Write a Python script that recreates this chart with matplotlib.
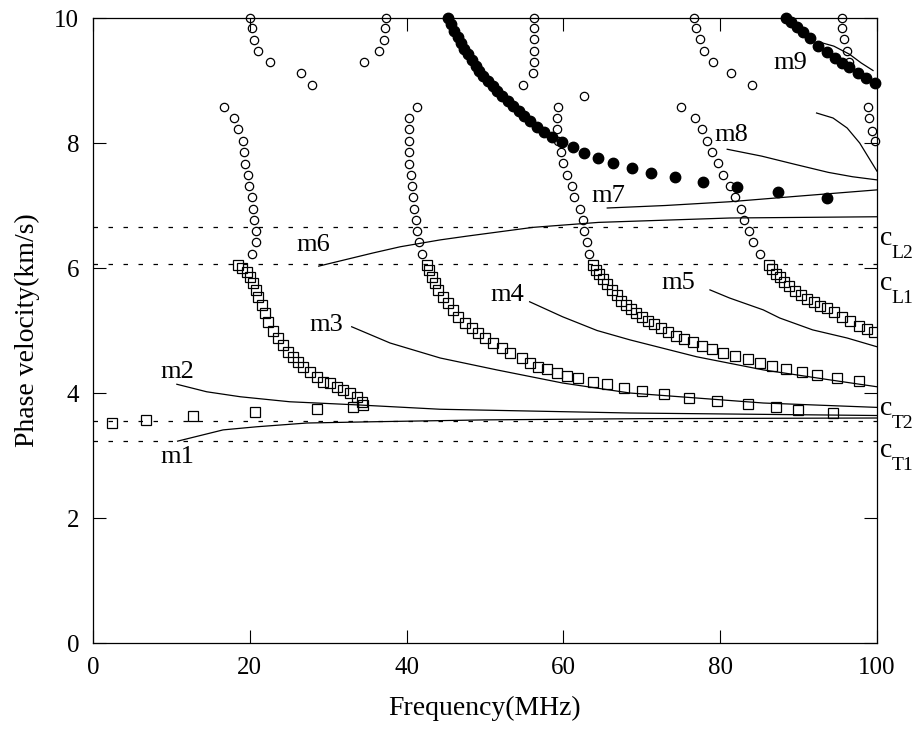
import matplotlib
matplotlib.use("Agg")
import matplotlib.pyplot as plt

plt.rcParams['font.family'] = ['Liberation Serif', 'DejaVu Serif']

# bulk wave velocities (km/s)
c_names = ['L2', 'L1', 'T2', 'T1']
c_vals = [6.66, 6.06, 3.55, 3.24]
c_label_v = [6.37, 5.65, 3.65, 2.98]

# solid mode curves m1..m9 (frequency MHz, phase velocity km/s)
m1_f = [10.8, 13.7, 16.6, 20.9, 27.3, 35.7, 50.0, 70.0, 100.0]
m1_v = [3.23, 3.32, 3.41, 3.46, 3.52, 3.54, 3.57, 3.59, 3.60]
m2_f = [10.7, 14.5, 18.8, 25.1, 33.7, 44.3, 68.5, 100.0]
m2_v = [4.14, 4.02, 3.94, 3.86, 3.81, 3.74, 3.68, 3.64]
m3_f = [33.0, 37.9, 44.3, 51.5, 59.9, 68.5, 77.0, 85.5, 100.0]
m3_v = [5.06, 4.80, 4.56, 4.37, 4.16, 4.00, 3.92, 3.84, 3.77]
m4_f = [55.7, 59.9, 64.3, 68.5, 77.0, 85.5, 94.0, 100.0]
m4_v = [5.46, 5.22, 5.00, 4.85, 4.58, 4.37, 4.21, 4.10]
m5_f = [78.7, 81.2, 85.5, 87.6, 91.8, 96.2, 100.0]
m5_v = [5.65, 5.52, 5.33, 5.20, 5.01, 4.88, 4.74]
m6_f = [28.8, 35.7, 39.2, 44.3, 47.7, 56.1, 64.5, 81.2, 100.0]
m6_v = [6.03, 6.24, 6.34, 6.45, 6.51, 6.65, 6.73, 6.80, 6.82]
m7_f = [65.6, 73.0, 81.2, 90.0, 100.0]
m7_v = [6.96, 7.00, 7.06, 7.15, 7.25]
m8_f = [80.9, 85.3, 89.5, 93.8, 96.9, 100.0]
m8_v = [7.90, 7.79, 7.66, 7.53, 7.46, 7.41]
m9_f = [92.5, 94.5, 96.5, 98.0, 99.5]
m9_v = [9.62, 9.55, 9.42, 9.28, 9.16]
mx_f = [92.3, 94.4, 96.2, 97.8, 100.0]
mx_v = [8.48, 8.40, 8.24, 8.00, 7.55]

mode_f = [m1_f, m2_f, m3_f, m4_f, m5_f, m6_f, m7_f, m8_f, m9_f, mx_f]
mode_v = [m1_v, m2_v, m3_v, m4_v, m5_v, m6_v, m7_v, m8_v, m9_v, mx_v]

mode_names = ['m1', 'm2', 'm3', 'm4', 'm5', 'm6', 'm7', 'm8', 'm9']
label_f = [10.8, 10.8, 29.7, 52.8, 74.6, 28.1, 65.8, 81.4, 88.9]
label_v = [2.98, 4.34, 5.09, 5.57, 5.76, 6.37, 7.15, 8.13, 9.28]

# open squares
s1_f = [2.4, 6.8, 12.8, 20.7, 28.6, 33.2]
s1_v = [3.52, 3.57, 3.63, 3.70, 3.74, 3.78]
s2_f = [18.5, 19.0, 19.6, 20.0, 20.4, 20.8, 21.0, 21.5, 21.9, 22.3, 23.0, 23.6,
        24.2, 24.9, 25.5, 26.1, 26.8, 27.7, 28.6, 29.3, 30.2, 31.1, 31.9, 32.8,
        33.7, 34.3, 34.4]
s2_v = [6.05, 6.00, 5.94, 5.86, 5.76, 5.65, 5.54, 5.41, 5.28, 5.14, 5.00, 4.88,
        4.77, 4.66, 4.58, 4.50, 4.42, 4.34, 4.26, 4.18, 4.16, 4.10, 4.05, 4.00,
        3.94, 3.86, 3.81]
s3_f = [42.6, 42.9, 43.2, 43.6, 44.0, 44.6, 45.3, 45.9, 46.6, 47.4, 48.3, 49.1,
        50.0, 51.0, 52.2, 53.2, 54.7, 55.7, 56.8, 57.9, 59.2, 60.5, 61.9, 63.8,
        65.6, 67.7, 70.0, 72.8, 76.0, 79.6, 83.5, 87.1, 89.9, 94.4]
s3_v = [6.05, 5.97, 5.86, 5.76, 5.65, 5.54, 5.44, 5.33, 5.22, 5.12, 5.04, 4.96,
        4.88, 4.80, 4.72, 4.64, 4.56, 4.48, 4.42, 4.38, 4.32, 4.27, 4.24, 4.18,
        4.14, 4.08, 4.03, 3.98, 3.92, 3.87, 3.83, 3.78, 3.73, 3.68]
s4_f = [63.8, 64.2, 64.6, 65.1, 65.6, 66.2, 66.8, 67.4, 68.0, 68.6, 69.3, 70.0,
        70.8, 71.6, 72.5, 73.4, 74.4, 75.4, 76.5, 77.7, 79.0, 80.4, 81.9, 83.5,
        85.1, 86.6, 88.4, 90.4, 92.4, 94.9, 97.7]
s4_v = [6.05, 5.97, 5.90, 5.83, 5.74, 5.65, 5.57, 5.48, 5.41, 5.35, 5.28, 5.22,
        5.16, 5.10, 5.04, 4.98, 4.92, 4.87, 4.81, 4.75, 4.70, 4.64, 4.59, 4.54,
        4.48, 4.43, 4.38, 4.33, 4.29, 4.24, 4.19]
s5_f = [86.2, 86.6, 87.1, 87.6, 88.2, 88.8, 89.5, 90.3, 91.1, 92.0, 92.8, 93.6,
        94.5, 95.5, 96.6, 97.7, 98.7, 99.6]
s5_v = [6.05, 5.98, 5.91, 5.85, 5.78, 5.71, 5.64, 5.57, 5.51, 5.45, 5.40, 5.36,
        5.30, 5.22, 5.15, 5.08, 5.03, 4.98]

# open circles
o1a_f = [16.7, 18.0, 18.5, 19.1, 19.3, 19.4, 19.8, 19.9, 20.3, 20.4, 20.5, 20.8, 20.8, 20.3]
o1a_v = [8.58, 8.40, 8.22, 8.03, 7.86, 7.67, 7.49, 7.31, 7.14, 6.95, 6.77, 6.59, 6.42, 6.22]
o1b_f = [20.0, 20.3, 20.5, 21.1, 22.6, 26.5, 27.9]
o1b_v = [10.0, 9.84, 9.65, 9.47, 9.30, 9.12, 8.93]
o1c_f = [37.4, 37.2, 37.1, 36.5, 34.6]
o1c_v = [10.0, 9.84, 9.65, 9.47, 9.30]
o2_f = [41.3, 40.3, 40.3, 40.3, 40.3, 40.3, 40.6, 40.7, 40.8, 40.9, 41.2, 41.3, 41.6, 42.0]
o2_v = [8.58, 8.40, 8.22, 8.03, 7.86, 7.67, 7.49, 7.31, 7.14, 6.95, 6.77, 6.59, 6.42, 6.22]
o3a_f = [56.3, 56.3, 56.3, 56.3, 56.3, 56.1, 54.9]
o3a_v = [10.0, 9.84, 9.66, 9.47, 9.30, 9.12, 8.93]
o3b_f = [62.6]
o3b_v = [8.75]
o3c_f = [59.3, 59.2, 59.2, 59.3, 59.7, 59.9, 60.5, 61.1, 61.4, 62.1, 62.5, 62.6, 63.0, 63.3]
o3c_v = [8.58, 8.40, 8.22, 8.03, 7.86, 7.68, 7.49, 7.31, 7.14, 6.95, 6.77, 6.59, 6.42, 6.22]
o4a_f = [76.7, 76.9, 77.4, 78.0, 79.1, 81.4, 84.1]
o4a_v = [10.0, 9.84, 9.66, 9.47, 9.30, 9.12, 8.93]
o4b_f = [75.0, 76.8, 77.7, 78.3, 79.0, 79.7, 80.4, 81.2, 81.9, 82.7, 83.0, 83.7, 84.2, 85.1]
o4b_v = [8.58, 8.40, 8.22, 8.03, 7.86, 7.68, 7.49, 7.31, 7.14, 6.95, 6.77, 6.59, 6.42, 6.22]
o5a_f = [95.5, 95.6, 95.8, 96.2, 96.5]
o5a_v = [10.0, 9.84, 9.66, 9.47, 9.30]
o5b_f = [98.8, 99.0, 99.4, 99.8]
o5b_v = [8.58, 8.40, 8.20, 8.03]

# filled circles
f1_f = [45.3, 45.7, 46.1, 46.5, 46.9, 47.3, 47.8, 48.3, 48.8, 49.3, 49.8, 50.4,
        51.0, 51.6, 52.2, 52.9, 53.6, 54.3, 55.0, 55.8, 56.6, 57.5, 58.6, 59.8,
        61.2, 62.6, 64.4, 66.3, 68.7, 71.2, 74.2, 77.8, 82.1, 87.4, 93.6]
f1_v = [10.0, 9.90, 9.80, 9.70, 9.60, 9.51, 9.42, 9.33, 9.24, 9.16, 9.08, 9.00,
        8.92, 8.84, 8.76, 8.68, 8.60, 8.52, 8.44, 8.35, 8.26, 8.17, 8.09, 8.02,
        7.94, 7.84, 7.76, 7.68, 7.60, 7.52, 7.46, 7.38, 7.30, 7.22, 7.12]
f2_f = [88.4, 89.1, 89.8, 90.6, 91.4, 92.5, 93.6, 94.6, 95.5, 96.5, 97.6, 98.6, 99.8]
f2_v = [10.0, 9.93, 9.86, 9.78, 9.68, 9.56, 9.45, 9.36, 9.28, 9.21, 9.12, 9.04, 8.96]

square_f = [s1_f, s2_f, s3_f, s4_f, s5_f]
square_v = [s1_v, s2_v, s3_v, s4_v, s5_v]
circle_f = [o1a_f, o1b_f, o1c_f, o2_f, o3a_f, o3b_f, o3c_f, o4a_f, o4b_f, o5a_f, o5b_f]
circle_v = [o1a_v, o1b_v, o1c_v, o2_v, o3a_v, o3b_v, o3c_v, o4a_v, o4b_v, o5a_v, o5b_v]
dot_f = [f1_f, f2_f]
dot_v = [f1_v, f2_v]

fig = plt.figure(figsize=(9.15, 7.47), dpi=100)
ax = fig.add_axes([0.1016, 0.1392, 0.8568, 0.8367])
ytrans = ax.get_yaxis_transform()

# dashed bulk velocity lines with c labels outside the right edge
for name, val, lv in zip(c_names, c_vals, c_label_v):
    ax.plot([0, 100], [val, val], color='black', lw=0.9, linestyle=(0, (3.6, 8.4)))
    ax.text(1.004, lv, 'c', transform=ytrans, fontsize=20, va='baseline', ha='left')
    ax.text(1.019, lv - 0.21, name, transform=ytrans, fontsize=14,
            va='baseline', ha='left')

for f, v in zip(mode_f, mode_v):
    ax.plot(f, v, color='black', lw=0.9)

for f, v in zip(square_f, square_v):
    ax.plot(f, v, linestyle='none', marker='s', markersize=6.5, markerfacecolor='none',
            markeredgecolor='black', markeredgewidth=0.9)

for f, v in zip(circle_f, circle_v):
    ax.plot(f, v, linestyle='none', marker='o', markersize=6, markerfacecolor='none',
            markeredgecolor='black', markeredgewidth=0.9, clip_on=False)

for f, v in zip(dot_f, dot_v):
    ax.plot(f, v, linestyle='none', marker='o', markersize=7.5, color='black', clip_on=False)

for name, x, y in zip(mode_names, label_f, label_v):
    ax.text(x, y, name, fontsize=19, ha='center', va='center')

ax.set_xlim(0, 100)
ax.set_ylim(0, 10)
ax.set_xticks([0, 20, 40, 60, 80, 100])
ax.set_yticks([0, 2, 4, 6, 8, 10])
ax.tick_params(direction='in', length=9.5, width=0.8, top=True, right=True,
               labelsize=18, pad=10)
for sp in ax.spines.values():
    sp.set_linewidth(0.9)

ax.set_xlabel('Frequency(MHz)', fontsize=20, labelpad=12)
ax.set_ylabel('Phase velocity(km/s)', fontsize=20, labelpad=10)

fig.savefig('out.png', dpi=100)
